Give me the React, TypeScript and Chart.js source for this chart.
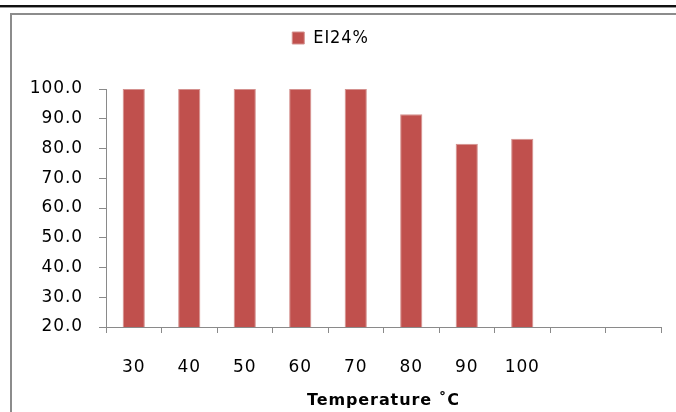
import React, { useEffect, useRef } from "react";
import { Chart, registerables } from "chart.js";

Chart.register(...registerables);

const categories = ["30", "40", "50", "60", "70", "80", "90", "100", "", ""];
const seriesLabel = "EI24%";
const seriesValues = [100, 100, 100, 100, 100, 91.5, 81.6, 83.3, null, null];
const yMin = 20;
const yMax = 100;
const yStep = 10;
const xTitle = "Temperature \u02daC";

const SPACING = "0.9px";

const spacingPlugin = {
  id: "spacing",
  beforeLayout(chart: any) {
    chart.ctx.letterSpacing = SPACING;
  },
  beforeDraw(chart: any) {
    const ctx = chart.ctx;
    ctx.letterSpacing = SPACING;
    ctx.save();
    ctx.fillStyle = "#ffffff";
    ctx.fillRect(0, 0, chart.width, chart.height);
    // top black rule
    ctx.fillStyle = "#111111";
    ctx.fillRect(0, 5, chart.width, 2);
    ctx.fillStyle = "#9a9a9a";
    ctx.fillRect(0, 7, chart.width, 1);
    // gray frame
    ctx.fillStyle = "#8c8c8c";
    ctx.fillRect(10, 13, chart.width - 10, 2);
    ctx.fillRect(10, 13, 2, chart.height - 13);
    ctx.restore();
  },
};

export default function App() {
  const ref = useRef<HTMLCanvasElement | null>(null);
  useEffect(() => {
    if (!ref.current) return;
    const chart = new Chart(ref.current, {
      type: "bar",
      data: {
        labels: categories,
        datasets: [
          {
            label: seriesLabel,
            data: seriesValues,
            backgroundColor: "#C0504D",
            borderColor: "#d4918f",
            borderWidth: 1,
            barPercentage: 0.4,
            categoryPercentage: 1,
          },
        ],
      },
      options: {
        responsive: false,
        animation: false,
        layout: { padding: { top: 0, left: 0, right: 15, bottom: 0 } },
        plugins: {
          legend: {
            display: true,
            position: "top",
            labels: {
              boxWidth: 12,
              boxHeight: 12,
              padding: 29,
              color: "#000000",
              font: { family: "'DejaVu Sans Condensed', 'DejaVu Sans'", size: 18 },
            },
          },
          title: {
            display: true,
            text: " ",
            padding: { top: 0, bottom: 20 },
            weight: 500,
            font: { size: 10 },
          } as any,
          tooltip: { enabled: false },
        },
        scales: {
          x: {
            grid: {
              display: true,
              drawOnChartArea: false,
              drawTicks: true,
              tickLength: 6,
              color: "#8a8a8a",
              offset: true,
            },
            border: { color: "#8a8a8a", width: 1 },
            ticks: {
              color: "#000000",
              padding: 24,
              font: { family: "'DejaVu Sans'", size: 17 },
              maxRotation: 0,
            },
            title: {
              display: true,
              text: xTitle,
              color: "#000000",
              padding: { top: 0, bottom: 2 },
              font: { family: "'DejaVu Sans'", size: 16, weight: "bold" },
            },
            afterFit(scale: any) {
              scale.height = 85;
            },
          },
          y: {
            min: yMin,
            max: yMax,
            grid: {
              display: true,
              drawOnChartArea: false,
              drawTicks: true,
              tickLength: 7,
              color: "#8a8a8a",
            },
            border: { color: "#8a8a8a", width: 1 },
            ticks: {
              stepSize: yStep,
              color: "#000000",
              padding: 16,
              font: { family: "'DejaVu Sans'", size: 17 },
              callback: (v: any) => Number(v).toFixed(1),
            },
            afterFit(scale: any) {
              scale.width = 106;
            },
          },
        },
      },
      plugins: [spacingPlugin],
    });
    return () => chart.destroy();
  }, []);
  return (
    <div style={{ position: "fixed", left: 0, top: 0, width: 676, height: 412 }}>
      <canvas ref={ref} width={676} height={412} style={{ display: "block" }} />
    </div>
  );
}
